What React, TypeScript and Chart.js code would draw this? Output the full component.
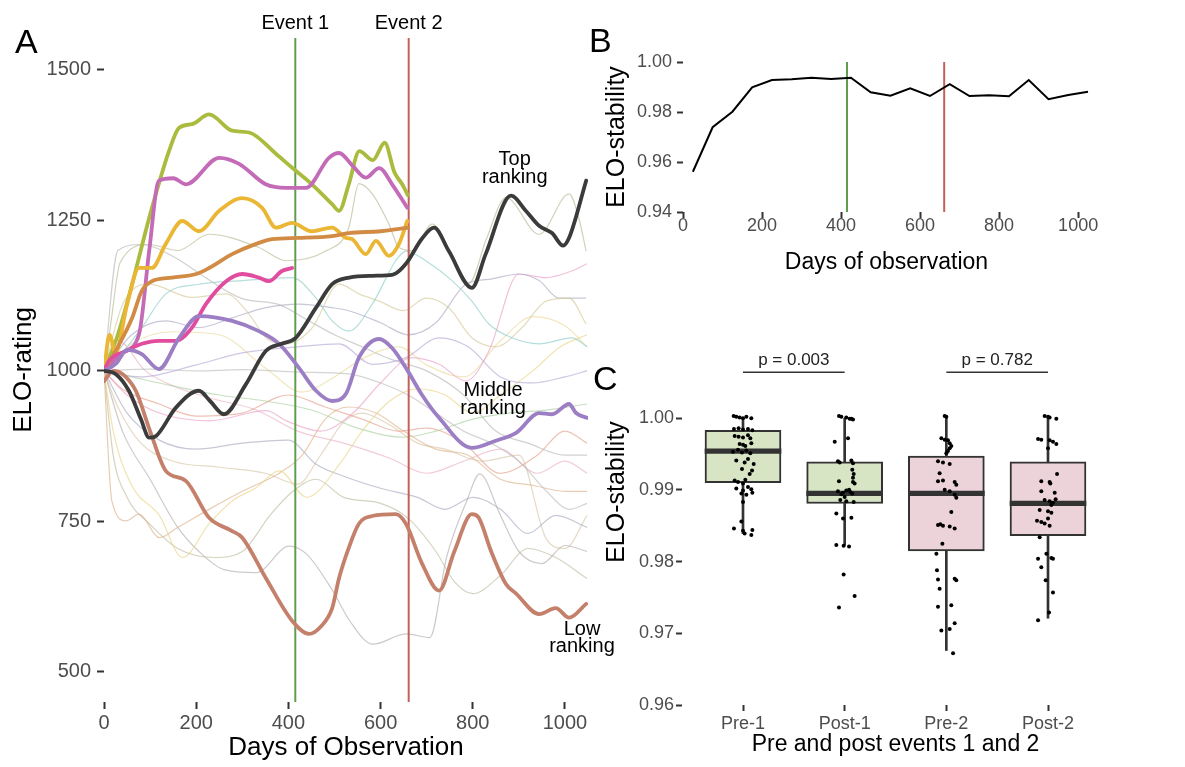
import React, { useEffect, useRef } from "react";
import { Chart, registerables } from "chart.js";

Chart.register(...registerables);

const FONT = "'Liberation Sans', Arimo, Arial, Helvetica, sans-serif";
const TICK_GREY = "#4d4d4d";
const TICK_MARK = "#333333";

// ---------------- Panel A : ELO-rating trajectories ----------------
const A_X_TICKS = [0, 200, 400, 600, 800, 1000];
const A_Y_TICKS = [500, 750, 1000, 1250, 1500];
const A_X_RANGE = [0, 1050];
const A_Y_RANGE = [450, 1553];
const EVENT_DAYS = [415, 661];
const EVENT_LABELS = ["Event 1", "Event 2"];
const EVENT_COLORS = ["#5f9e50", "#c4605a"];

// highlighted individuals [day, rating]
const topRanking = [[0,1000],[25,995],[54,967],[80,920],[98,889],[113,892],[156,939],[206,967],[230,950],[260,928],[308,978],[351,1033],[385,1045],[416,1055],[460,1105],[495,1144],[532,1155],[583,1158],[627,1160],[655,1178],[690,1220],[716,1238],[748,1199],[798,1138],[828,1194],[883,1291],[915,1266],[944,1241],[972,1229],[996,1208],[1009,1221],[1046,1316]];
const lowRanking = [[0,983],[20,1000],[40,995],[69,967],[100,900],[134,834],[178,817],[228,756],[278,734],[300,723],[351,656],[408,585],[445,563],[470,575],[495,606],[510,656],[531,706],[553,746],[582,759],[633,762],[655,746],[690,680],[727,635],[760,700],[798,762],[813,756],[840,700],[872,646],[894,630],[944,596],[980,606],[1009,590],[1046,613]];
const middleRanking = [[0,1000],[26,1012],[50,1035],[82,1028],[119,1003],[163,1055],[206,1091],[278,1083],[336,1066],[380,1045],[423,1005],[460,967],[495,950],[525,962],[553,1022],[597,1053],[625,1038],[655,1005],[690,960],[727,922],[798,872],[850,884],[894,897],[944,930],[972,928],[1009,945],[1024,930],[1048,922]];
const oliveInd = [[0,1000],[30,1060],[61,1144],[98,1254],[141,1365],[163,1404],[191,1410],[228,1426],[278,1399],[315,1396],[374,1360],[409,1337],[451,1310],[495,1277],[510,1266],[531,1310],[554,1365],[583,1350],[609,1379],[630,1330],[647,1310],[659,1292]];
const orchidInd = [[0,1000],[40,1030],[76,1061],[98,1199],[119,1316],[150,1320],[178,1310],[250,1354],[293,1344],[351,1310],[395,1304],[438,1304],[488,1354],[510,1362],[540,1340],[568,1321],[597,1337],[625,1310],[658,1271]];
const goldInd = [[0,1000],[12,1060],[25,1030],[50,1110],[76,1171],[104,1171],[134,1211],[170,1249],[206,1232],[250,1266],[300,1287],[343,1271],[373,1238],[408,1246],[451,1232],[495,1238],[525,1221],[538,1219],[568,1194],[590,1216],[618,1191],[640,1211],[658,1249]];
const orangeInd = [[0,1000],[30,1040],[61,1088],[82,1133],[104,1149],[148,1155],[200,1161],[228,1171],[278,1194],[330,1211],[365,1219],[423,1221],[495,1224],[531,1229],[600,1232],[660,1238]];
const pinkInd = [[0,1000],[11,1017],[48,1033],[82,1045],[119,1050],[156,1050],[191,1072],[221,1111],[265,1149],[300,1161],[336,1155],[358,1149],[386,1166],[408,1171]];

// background individuals
const bgA = [[0,1000],[15,1080],[35,1180],[98,1210],[160,1200],[228,1227],[336,1205],[395,1183],[481,1199],[531,1238],[553,1311],[582,1294],[618,1244],[640,1205],[670,1200],[712,1244],[750,1200],[792,1146],[830,1220],[872,1288],[944,1227],[1009,1294],[1030,1254],[1046,1199]];
const bgB = [[0,1000],[40,1030],[82,1072],[134,1128],[206,1144],[300,1150],[408,1155],[460,1121],[495,1083],[531,1066],[582,1111],[633,1183],[655,1199],[698,1183],[755,1150],[798,1116],[835,1078],[885,1055],[944,1045],[1015,1055],[1048,1040]];
const bgC = [[0,1000],[40,1110],[98,1144],[191,1122],[265,1128],[315,1094],[351,1055],[395,1045],[450,1070],[510,1144],[553,1128],[597,1116],[650,1100],[698,1121],[748,1105],[798,1055],[850,1040],[907,1072],[959,1116],[1009,1121],[1046,1078]];
const bgD = [[0,1000],[60,1060],[134,1083],[206,1072],[278,1088],[351,1105],[423,1111],[495,1105],[531,1100],[600,1080],[660,1060],[720,1080],[785,1144],[842,1153],[900,1161],[944,1150],[987,1121],[1046,1121]];
const bgE = [[0,1000],[80,990],[200,1010],[300,1030],[420,1040],[510,1045],[582,1011],[655,1022],[727,1055],[790,1040],[860,990],[930,980],[1000,990],[1048,1000]];
const bgF = [[0,1000],[50,960],[120,930],[228,917],[352,934],[396,917],[470,900],[540,930],[600,980],[668,1022],[727,1011],[785,983],[835,1033],[900,1161],[959,1155],[1015,1166],[1048,1178]];
const bgG = [[0,1000],[100,1003],[200,1000],[300,1002],[420,998],[530,995],[600,980],[660,960],[720,930],[780,900],[840,880],[900,850],[960,800],[1010,770],[1048,780]];
const bgH = [[0,1000],[20,900],[60,810],[120,760],[170,690],[228,746],[278,784],[330,806],[380,834],[440,790],[511,845],[560,900],[620,950],[680,970],[740,960],[800,930],[860,960],[930,1000],[990,1040],[1048,1060]];
const bgI = [[0,1000],[17,784],[48,751],[76,762],[120,723],[160,740],[228,770],[300,800],[380,830],[430,860],[480,920],[530,940],[590,930],[650,900],[720,870],[790,860],[860,820],[930,810],[1000,800],[1048,800]];
const bgJ = [[0,1000],[40,900],[100,820],[160,740],[206,700],[260,670],[330,665],[402,709],[439,696],[496,635],[533,585],[583,546],[656,563],[707,557],[743,690],[787,784],[815,829],[860,760],[900,700],[950,680],[1000,710],[1048,700]];
const bgK = [[0,1000],[60,990],[150,975],[250,960],[350,950],[450,935],[550,905],[650,890],[720,900],[800,920],[880,930],[960,935],[1048,945]];
const bgL = [[0,1000],[40,970],[120,945],[200,925],[300,930],[400,960],[480,940],[560,920],[640,900],[700,905],[780,880],[860,830],[940,860],[1000,900],[1048,880]];
const bgM = [[0,1000],[50,930],[120,885],[200,870],[300,880],[400,885],[460,845],[520,825],[600,805],[680,790],[740,770],[800,790],[860,770],[920,730],[980,760],[1048,740]];
const bgN = [[0,1000],[60,1045],[150,1065],[250,1060],[350,1005],[430,965],[500,990],[560,1020],[640,1040],[700,1010],[780,990],[860,1050],[930,1090],[1000,1075],[1048,1040]];
const bgO = [[0,1000],[30,940],[80,880],[150,850],[250,840],[350,830],[420,812],[470,860],[520,915],[560,930],[620,910],[680,880],[740,870],[820,850],[900,860],[960,720],[1000,705],[1048,760]];
const bgP = [[0,1000],[20,860],[50,790],[100,745],[160,705],[240,690],[300,700],[360,760],[410,800],[460,820],[520,790],[600,780],[660,755],[720,700],[760,650],[800,630],[860,660],[920,705],[980,690],[1048,655]];
const bgQ = [[0,1000],[30,1050],[90,1000],[150,975],[230,955],[330,935],[420,900],[520,880],[620,855],[700,830],[780,850],[860,870],[940,830],[1000,850],[1048,830]];
const bgR = [[0,1000],[30,1200],[80,1210],[150,1190],[230,1150],[300,1120],[380,1110],[440,1085],[500,1060],[560,1040],[620,1020],[700,1000],[780,960],[850,900],[920,880],[1000,860],[1048,860]];

const THICK = [
  { pts: topRanking, color: "#3b3b3b" },
  { pts: middleRanking, color: "#9c7ec4" },
  { pts: lowRanking, color: "#c4806a" },
  { pts: pinkInd, color: "#e14c9e" },
  { pts: orangeInd, color: "#d28b45" },
  { pts: goldInd, color: "#eab634" },
  { pts: orchidInd, color: "#c46bb8" },
  { pts: oliveInd, color: "#abbb3e" },
];
const THIN = [
  { pts: bgA, color: "#b5b58fa0" }, { pts: bgB, color: "#86cbc4a0" }, { pts: bgC, color: "#d3c796a0" },
  { pts: bgD, color: "#a9a5c0a0" }, { pts: bgE, color: "#b4a4d4a0" }, { pts: bgF, color: "#e89cc5a0" },
  { pts: bgG, color: "#bababaa0" }, { pts: bgH, color: "#e8d283a0" }, { pts: bgI, color: "#dcae84a0" },
  { pts: bgJ, color: "#b2ababa0" }, { pts: bgK, color: "#a6cd9ca0" }, { pts: bgL, color: "#e29e88a0" },
  { pts: bgM, color: "#a4a8bea0" }, { pts: bgN, color: "#e8d996a0" }, { pts: bgO, color: "#d6c4a2a0" },
  { pts: bgP, color: "#bcb99aa0" }, { pts: bgQ, color: "#ebaec0a0" }, { pts: bgR, color: "#b4b4b4a0" },
];

const A_NOTES = [
  { x: 891, y: 1351, lines: ["Top", "ranking"] },
  { x: 844, y: 967, lines: ["Middle", "ranking"] },
  { x: 1037, y: 571, lines: ["Low", "ranking"] },
];

// ---------------- Panel B : ELO-stability over time ----------------
const B_X_TICKS = [0, 200, 400, 600, 800, 1000];
const B_Y_TICKS = [0.94, 0.96, 0.98, 1.0];
const stabDays = [25, 75, 125, 175, 225, 275, 325, 375, 425, 475, 525, 575, 625, 675, 725, 775, 825, 875, 925, 975, 1025];
const stabVals = [0.9561, 0.9739, 0.9801, 0.9899, 0.9928, 0.9931, 0.9937, 0.9932, 0.9937, 0.9879, 0.9865, 0.9895, 0.9864, 0.9911, 0.9864, 0.9867, 0.9863, 0.9928, 0.9851, 0.9868, 0.9881];

// ---------------- Panel C : box plots ----------------
const C_CATS = ["Pre-1", "Post-1", "Pre-2", "Post-2"];
const C_Y_TICKS = [0.96, 0.97, 0.98, 0.99, 1.0];
const whiskerLow = [0.9839, 0.9823, 0.9676, 0.9721];
const q1 = [0.991, 0.9881, 0.9815, 0.9836];
const median = [0.9954, 0.9895, 0.9895, 0.9881];
const q3 = [0.9983, 0.9939, 0.9947, 0.9939];
const whiskerHigh = [1.0, 1.0, 1.0, 1.0];
const boxFill = ["#d8e5c5", "#d8e5c5", "#ecd3d9", "#ecd3d9"];
// jittered observations [x offset, value]
const pre1Pts = [[-0.092,1.0003],[-0.066,1.0002],[-0.033,1.0001],[0,1.0],[0.033,1.0002],[0.082,1.0],[-0.089,0.9985],[-0.043,0.9986],[0,0.9984],[0.049,0.9985],[0.092,0.9983],[-0.082,0.9975],[-0.043,0.9974],[0,0.9973],[0.049,0.9976],[0.072,0.9972],[-0.033,0.9964],[0,0.9963],[0.023,0.9961],[0.082,0.9965],[-0.098,0.9953],[-0.049,0.9956],[-0.01,0.9952],[0.033,0.9955],[0.072,0.9951],[-0.066,0.9941],[0.016,0.9938],[0.049,0.9943],[0.105,0.9936],[-0.01,0.9929],[0.089,0.9927],[0.066,0.9922],[-0.082,0.9913],[-0.049,0.9911],[0,0.9909],[0.023,0.9914],[-0.066,0.9902],[0,0.9899],[0.049,0.9904],[0.082,0.9901],[-0.016,0.9895],[0.033,0.9893],[0.092,0.9896],[0,0.9883],[-0.016,0.9856],[-0.089,0.9846],[0,0.9843],[0.016,0.9839],[0.092,0.9844],[0.082,0.9837]];
const post1Pts = [[-0.056,1.0003],[-0.033,1.0002],[0.016,1.0001],[0.049,0.9999],[0.082,0.9998],[0.066,0.9999],[0.033,0.9972],[-0.098,0.9967],[-0.066,0.994],[-0.049,0.9938],[0.066,0.9941],[0.082,0.9937],[0.075,0.9928],[0.089,0.9922],[0.082,0.9917],[-0.056,0.9912],[0.082,0.9911],[0.098,0.9909],[-0.066,0.9898],[-0.016,0.9896],[0.016,0.9899],[0.056,0.9897],[0.075,0.9895],[-0.033,0.9894],[0.043,0.99],[-0.043,0.9886],[0.016,0.9884],[0.089,0.9883],[0,0.989],[-0.082,0.9867],[-0.016,0.986],[0.066,0.9861],[-0.082,0.9823],[-0.01,0.9822],[0.043,0.9821],[-0.01,0.9782],[0.098,0.9752],[-0.056,0.9736]];
const pre2Pts = [[-0.016,1.0003],[0,1.0002],[-0.049,0.9972],[-0.016,0.997],[0.016,0.9969],[0.033,0.9965],[0.049,0.9961],[0.033,0.9958],[0,0.9951],[0.016,0.9954],[-0.082,0.994],[-0.033,0.9938],[0.033,0.9936],[-0.066,0.9923],[-0.082,0.9912],[-0.033,0.9913],[0.082,0.9911],[0.098,0.9907],[-0.016,0.99],[0.033,0.9898],[0.082,0.9893],[0.098,0.9889],[0.049,0.9869],[-0.082,0.9851],[-0.059,0.9852],[-0.033,0.985],[0.033,0.9849],[0.082,0.9846],[-0.039,0.9825],[-0.098,0.9811],[-0.092,0.9788],[-0.082,0.9775],[0.082,0.9776],[0.098,0.9774],[-0.066,0.9762],[-0.082,0.9737],[0.049,0.9739],[0.082,0.9714],[-0.049,0.9704],[0.033,0.9706],[0.066,0.9672]];
const post2Pts = [[-0.033,1.0003],[0,1.0002],[0.016,1.0001],[0.082,0.9999],[-0.098,0.9971],[-0.066,0.997],[0.016,0.9969],[0.049,0.9967],[0.082,0.9964],[0,0.9958],[0.089,0.9922],[-0.066,0.9912],[0.016,0.9911],[0.023,0.9909],[-0.066,0.9898],[0.066,0.9896],[-0.033,0.9886],[0.016,0.9884],[0.049,0.9882],[0.075,0.9887],[0.033,0.9879],[-0.082,0.9872],[0,0.987],[0.033,0.9868],[-0.108,0.9857],[-0.066,0.9855],[-0.033,0.9853],[0.016,0.985],[0,0.986],[-0.082,0.9834],[-0.016,0.9811],[-0.098,0.9804],[0.033,0.9805],[0.049,0.9804],[-0.066,0.9792],[-0.023,0.9774],[0.049,0.9757],[0.01,0.9729],[-0.098,0.9718]];
const C_POINTS = [pre1Pts, post1Pts, pre2Pts, post2Pts];
const pFrom = [1, 3];
const pTo = [2, 4];
const pLevel = [1.0064, 1.0064];
const pLabels = ["p = 0.003", "p = 0.782"];

// ---------------- helpers ----------------
type Note = { x: number; y?: number; dy?: number; lines: string[]; size: number; lh: number; color: string };

const notesPlugin = (notes: Note[]) => ({
  id: "notes",
  afterDatasetsDraw(chart: any) {
    const { ctx, scales, chartArea } = chart;
    ctx.save();
    ctx.textAlign = "center";
    ctx.textBaseline = "middle";
    notes.forEach((n) => {
      ctx.font = `${n.size}px ${FONT}`;
      ctx.fillStyle = n.color;
      const px = scales.x.getPixelForValue(n.x);
      const py = n.y !== undefined ? scales.y.getPixelForValue(n.y) : chartArea.top + (n.dy || 0);
      n.lines.forEach((l, k) => ctx.fillText(l, px, py + k * n.lh));
    });
    ctx.restore();
  },
});

function scale(o: {
  min: number; max: number; values: number[]; fmt: (v: number) => string; size: number;
  pad: number; tl: number; fit: (s: any) => void; title: string; titleSize: number; titlePad: any;
}) {
  return {
    type: "linear",
    min: o.min,
    max: o.max,
    offset: false,
    beginAtZero: false,
    afterBuildTicks: (s: any) => {
      s.ticks = o.values.map((v) => ({ value: v }));
    },
    afterFit: o.fit,
    ticks: {
      callback: (v: any) => o.fmt(Number(v)),
      color: TICK_GREY,
      font: { family: FONT, size: o.size },
      padding: o.pad,
      autoSkip: false,
      maxRotation: 0,
      minRotation: 0,
    },
    grid: {
      display: true,
      offset: false,
      drawOnChartArea: false,
      drawTicks: true,
      tickLength: o.tl,
      tickColor: TICK_MARK,
      tickWidth: 2,
    },
    border: { display: false },
    title: {
      display: true,
      text: o.title,
      color: "#000",
      font: { family: FONT, size: o.titleSize },
      padding: o.titlePad,
    },
  };
}

const xy = (pts: number[][]) => pts.map(([x, y]) => ({ x, y }));

const baseOpts = {
  responsive: false,
  animation: false,
  devicePixelRatio: 1,
  events: [],
  plugins: { legend: { display: false }, tooltip: { enabled: false } },
};

function buildA(canvas: HTMLCanvasElement) {
  const datasets: any[] = [];
  THIN.forEach((s) =>
    datasets.push({ type: "line", data: xy(s.pts), borderColor: s.color, borderWidth: 1.2, pointRadius: 0, cubicInterpolationMode: "monotone", order: 3 })
  );
  EVENT_DAYS.forEach((d, i) =>
    datasets.push({ type: "line", data: [{ x: d, y: A_Y_RANGE[0] }, { x: d, y: A_Y_RANGE[1] }], borderColor: EVENT_COLORS[i], borderWidth: 2, pointRadius: 0, order: 2 })
  );
  THICK.forEach((s) =>
    datasets.push({ type: "line", data: xy(s.pts), borderColor: s.color, borderWidth: 3.8, pointRadius: 0, cubicInterpolationMode: "monotone", borderCapStyle: "round", borderJoinStyle: "round", order: 1 })
  );
  const notes: Note[] = [
    ...EVENT_DAYS.map((d, i) => ({ x: d, dy: -15, lines: [EVENT_LABELS[i]], size: 20, lh: 0, color: "#000" })),
    ...A_NOTES.map((n) => ({ x: n.x, y: n.y, lines: n.lines, size: 20, lh: 17.5, color: "#000" })),
  ];
  return new Chart(canvas, {
    type: "line",
    data: { datasets },
    options: {
      ...baseOpts,
      layout: { padding: { left: 0, top: 38, right: 52, bottom: 0 } },
      scales: {
        x: scale({ min: A_X_RANGE[0], max: A_X_RANGE[1], values: A_X_TICKS, fmt: (v) => String(v), size: 20, pad: 2, tl: 7, fit: (s) => { s.height = 65; }, title: "Days of Observation", titleSize: 26, titlePad: { top: 0, bottom: 4 } }),
        y: scale({ min: A_Y_RANGE[0], max: A_Y_RANGE[1], values: A_Y_TICKS, fmt: (v) => String(v), size: 20, pad: 6, tl: 7, fit: (s) => { s.width = 104; }, title: "ELO-rating", titleSize: 26, titlePad: { top: 8, bottom: 0 } }),
      },
    } as any,
    plugins: [notesPlugin(notes)],
  } as any);
}

function buildB(canvas: HTMLCanvasElement) {
  const datasets: any[] = [
    { type: "line", data: stabDays.map((d, i) => ({ x: d, y: stabVals[i] })), borderColor: "#000", borderWidth: 2, pointRadius: 0, tension: 0, order: 1 },
    ...EVENT_DAYS.map((d, i) => ({ type: "line", data: [{ x: d, y: B_Y_TICKS[0] }, { x: d, y: B_Y_TICKS[B_Y_TICKS.length - 1] }], borderColor: EVENT_COLORS[i], borderWidth: 2, pointRadius: 0, order: 2 })),
  ];
  return new Chart(canvas, {
    type: "line",
    data: { datasets },
    options: {
      ...baseOpts,
      layout: { padding: { left: 0, top: 62, right: 95, bottom: 0 } },
      scales: {
        x: scale({ min: 0, max: 1030, values: B_X_TICKS, fmt: (v) => String(v), size: 18, pad: -3, tl: 6, fit: (s) => { s.height = 78; }, title: "Days of observation", titleSize: 23, titlePad: { top: 0, bottom: 14 } }),
        y: scale({ min: 0.94, max: 1.0, values: B_Y_TICKS, fmt: (v) => v.toFixed(2), size: 18, pad: 5, tl: 6, fit: (s) => { s.width = 103; }, title: "ELO-stability", titleSize: 25, titlePad: { top: 22, bottom: 0 } }),
      },
    } as any,
  } as any);
}

function buildC(canvas: HTMLCanvasElement) {
  const med = median.map((m) => [m - 0.00032, m + 0.00032]);
  const points: { x: number; y: number }[] = [];
  C_POINTS.forEach((grp, i) => grp.forEach(([dx, v]) => points.push({ x: i + 1 + dx, y: v })));
  const datasets: any[] = [
    { type: "bar", data: C_CATS.map((_, i) => ({ x: i + 1, y: [whiskerLow[i], whiskerHigh[i]] })), backgroundColor: "#333", borderWidth: 0, barThickness: 2, grouped: false, order: 5 },
    { type: "bar", data: C_CATS.map((_, i) => ({ x: i + 1, y: [q1[i], q3[i]] })), backgroundColor: boxFill, borderColor: "#333", borderWidth: 2, borderSkipped: false, barThickness: 76, grouped: false, order: 4 },
    { type: "bar", data: C_CATS.map((_, i) => ({ x: i + 1, y: med[i] })), backgroundColor: "#333", borderWidth: 0, barThickness: 76, grouped: false, order: 3 },
    { type: "scatter", data: points, pointRadius: 2, pointBackgroundColor: "#000", pointBorderWidth: 0, showLine: false, order: 1 },
    ...pFrom.map((f, i) => ({ type: "line", data: [{ x: f, y: pLevel[i] }, { x: pTo[i], y: pLevel[i] }], borderColor: "#333", borderWidth: 1.6, pointRadius: 0, order: 1 })),
  ];
  const notes: Note[] = pFrom.map((f, i) => ({ x: (f + pTo[i]) / 2, y: pLevel[i], lines: [pLabels[i]], size: 17, lh: 0, color: "#222" }));
  // shift labels up by fixed pixel amount
  const pNotes = {
    id: "pvals",
    afterDatasetsDraw(chart: any) {
      const { ctx, scales } = chart;
      ctx.save();
      ctx.textAlign = "center";
      ctx.textBaseline = "middle";
      notes.forEach((n) => {
        ctx.font = `${n.size}px ${FONT}`;
        ctx.fillStyle = n.color;
        ctx.fillText(n.lines[0], scales.x.getPixelForValue(n.x), scales.y.getPixelForValue(n.y as number) - 12);
      });
      ctx.restore();
    },
  };
  return new Chart(canvas, {
    type: "bar",
    data: { datasets },
    options: {
      ...baseOpts,
      layout: { padding: { left: 0, top: 29, right: 76, bottom: 0 } },
      scales: {
        x: scale({ min: 0.4, max: 4.6, values: [1, 2, 3, 4], fmt: (v) => C_CATS[Math.round(v) - 1] || "", size: 18, pad: 2, tl: 6, fit: (s) => { s.height = 62; }, title: "Pre and post events 1 and 2", titleSize: 23, titlePad: { top: 0, bottom: 9 } }),
        y: scale({ min: 0.96, max: 1.0194, values: C_Y_TICKS, fmt: (v) => v.toFixed(2), size: 18, pad: 2, tl: 6, fit: (s) => { s.width = 102; }, title: "ELO-stability", titleSize: 25, titlePad: { top: 22, bottom: 0 } }),
      },
    } as any,
    plugins: [pNotes],
  } as any);
}

function ChartCanvas(props: { build: (c: HTMLCanvasElement) => Chart; left: number; top: number; width: number; height: number }) {
  const ref = useRef<HTMLCanvasElement | null>(null);
  useEffect(() => {
    if (!ref.current) return;
    const ch = props.build(ref.current);
    return () => ch.destroy();
  }, []);
  return (
    <canvas
      ref={ref}
      width={props.width}
      height={props.height}
      style={{ position: "absolute", left: props.left, top: props.top, width: props.width, height: props.height }}
    />
  );
}

const panelLabel = (text: string, left: number, top: number) => (
  <div style={{ position: "absolute", left, top, fontFamily: FONT, fontSize: 34, lineHeight: "34px", color: "#000" }}>{text}</div>
);

export default function App() {
  return (
    <div style={{ position: "absolute", left: 0, top: 0, width: 1185, height: 767, background: "#fff", overflow: "hidden" }}>
      <ChartCanvas build={buildA} left={0} top={0} width={640} height={767} />
      <ChartCanvas build={buildB} left={580} top={0} width={605} height={290} />
      <ChartCanvas build={buildC} left={580} top={250} width={605} height={517} />
      {panelLabel("A", 15, 24)}
      {panelLabel("B", 589, 23)}
      {panelLabel("C", 593, 361)}
    </div>
  );
}
